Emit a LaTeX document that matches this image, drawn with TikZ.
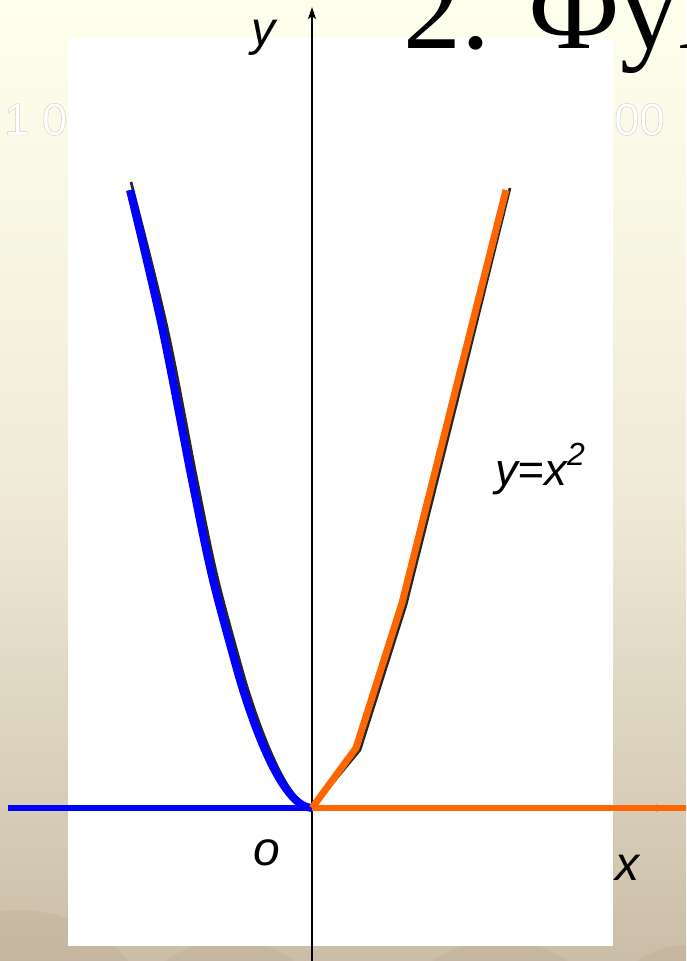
\documentclass[tikz,border=0pt]{standalone}
\usepackage{fontspec}
\setmainfont{Liberation Serif}
\newfontfamily\arial{Liberation Sans}
\usetikzlibrary{arrows.meta}
\definecolor{bgtop}{RGB}{255,255,238}
\definecolor{bgmid}{RGB}{240,235,216}
\definecolor{bgbot}{RGB}{203,190,168}
\definecolor{curveblue}{RGB}{0,0,255}
\definecolor{curveorange}{RGB}{255,102,0}
\definecolor{ringtan}{RGB}{170,150,120}
\newcommand{\outlinetext}[1]{\special{pdf:literal direct 2 Tr 0.35 w 0.82 0.82 0.78 RG 1 1 1 rg}#1\special{pdf:literal direct 0 Tr}}
\begin{document}
\begin{tikzpicture}[x=0.75pt,y=-0.75pt,
  axisline/.style={black, line width=1.1pt},
  shadowline/.style={black!85, line width=2pt, line join=round},
  bluecurve/.style={curveblue, line width=6pt, line join=round},
  orangecurve/.style={curveorange, line width=5.2pt, line join=round},
  axislabel/.style={font=\arial\itshape\fontsize{36}{40}\selectfont, inner sep=0pt, anchor=base},
  ghost/.style={font=\arial\fontsize{34}{38}\selectfont, inner sep=0pt, anchor=base west}]
\useasboundingbox (0,0) rectangle (686,961);
\clip (0,0) rectangle (686,961);
% background
\shade[top color=bgtop, bottom color=bgbot, middle color=bgmid] (0,0) rectangle (686,961);
\fill[ringtan, opacity=0.18] (20,1050) circle[radius=140];
\fill[ringtan, opacity=0.18] (230,1050) circle[radius=110];
\fill[ringtan, opacity=0.18] (500,1060) circle[radius=120];
\fill[ringtan, opacity=0.18] (690,1040) circle[radius=95];
% faint background texts
\node[ghost] (ghostL) at (4,135) {\outlinetext{1 0}};
\node[ghost] (ghostR) at (614,135) {\outlinetext{00}};
% white panel
\fill[white] (68,38) rectangle (613,946);
% title
\node[anchor=base west, inner sep=0pt, font=\fontsize{87}{90}\selectfont] (title) at (403,48) {2. Фун};
% coordinates
\coordinate (O) at (312,808);
\coordinate (ytop) at (312,7);
\coordinate (ybot) at (312,961);
\coordinate (xleft) at (8,808);
\coordinate (xtip) at (666,808);
\coordinate (xend) at (686,808);
% axes
\draw[axisline, -{Stealth[length=9pt, width=6pt, inset=2pt]}] (ybot) -- (ytop);
\draw[axisline, -{Stealth[length=7pt, width=5pt, inset=1.5pt]}] (xleft) -- (xtip);
% shadows of the parabola
\draw[shadowline, shift={(5,0)}] plot[smooth, tension=0.55] coordinates {(126,182) (162,327) (192,480) (213,580) (240,680)} .. controls (258,740) and (285,806) .. (307,808);
\draw[shadowline, shift={(4,2)}] (O) -- (356,748) -- (402,603) -- (453,400) -- (506,186);
% coloured graph
\draw[curveblue, line width=5pt] (xleft) -- (O);
\draw[curveorange, line width=4pt] (O) -- (xend);
\draw[bluecurve] plot[smooth, tension=0.55] coordinates {(130,190) (162,327) (192,480) (213,580) (240,680)} .. controls (258,740) and (285,807) .. (O);
\draw[orangecurve] (O) -- (356,748) -- (402,603) -- (453,400) -- (506,190);
% labels
\node[axislabel] (ylab) at (263,45) {y};
\node[axislabel] (olab) at (267,865) {o};
\node[axislabel] (xlab) at (627,880) {x};
\node[anchor=base, inner sep=0pt, font=\arial\itshape\fontsize{34}{38}\selectfont] (func) at (540,485) {y=x\raisebox{0.42em}{\fontsize{24}{26}\selectfont 2}};
\end{tikzpicture}
\end{document}
